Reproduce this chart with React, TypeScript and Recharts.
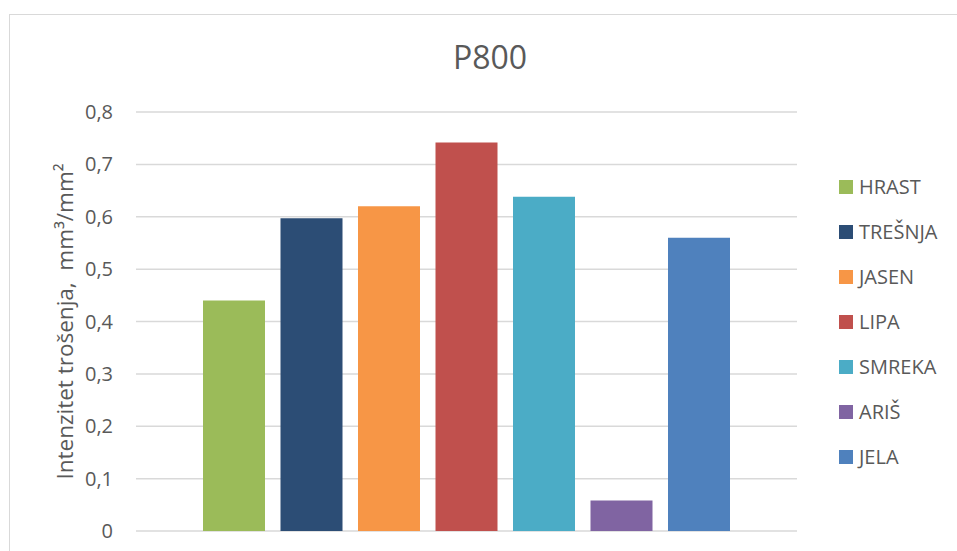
import React from 'react';
import { BarChart, Bar, XAxis, YAxis, CartesianGrid, Legend } from 'recharts';

const categories = ['P800'];
const species = ['HRAST', 'TREŠNJA', 'JASEN', 'LIPA', 'SMREKA', 'ARIŠ', 'JELA'];
const values = [0.44, 0.597, 0.62, 0.742, 0.638, 0.058, 0.56];
const colors = ['#9BBB59', '#2C4D75', '#F79646', '#C0504D', '#4BACC6', '#8064A2', '#4F81BD'];
const yTicks = [0, 0.1, 0.2, 0.3, 0.4, 0.5, 0.6, 0.7, 0.8];

const data = categories.map((name) => {
  const row: Record<string, number | string> = { name };
  species.forEach((s, i) => {
    row[s] = values[i];
  });
  return row;
});

const FONT = '"Open Sans", sans-serif';
const TEXT = '#595959';

const renderLegend = (props: any) => {
  const payload = [...(props.payload || [])].sort(
    (a: any, b: any) => species.indexOf(a.value) - species.indexOf(b.value)
  );
  return (
    <div style={{ fontFamily: FONT }}>
      {payload.map((entry: any) => (
        <div
          key={entry.value}
          style={{ height: 45, display: 'flex', alignItems: 'center' }}
        >
          <span
            style={{
              width: 14,
              height: 14,
              background: entry.color,
              display: 'inline-block',
              marginRight: 6,
            }}
          />
          <span style={{ color: TEXT, fontSize: 20, lineHeight: 1 }}>{entry.value}</span>
        </div>
      ))}
    </div>
  );
};

const App = () => {
  return (
    <div
      style={{
        position: 'absolute',
        left: 0,
        top: 0,
        width: 957,
        height: 551,
        overflow: 'hidden',
        background: '#fff',
      }}
    >
      <div
        style={{
          position: 'absolute',
          left: 9,
          top: 14,
          width: 980,
          height: 600,
          border: '1.5px solid #d9d9d9',
        }}
      />
      <div style={{ position: 'absolute', left: 0, top: 0 }}>
        <BarChart
          width={957}
          height={551}
          data={data}
          margin={{ top: 112, right: 42, bottom: 20, left: 0 }}
          barCategoryGap={67}
          barGap={15.5}
        >
          <text
            x={490}
            y={69}
            textAnchor="middle"
            fill={TEXT}
            style={{ fontFamily: FONT, fontSize: 32 }}
          >
            P800
          </text>
          <CartesianGrid vertical={false} stroke="#d9d9d9" strokeWidth={1.5} />
          <XAxis dataKey="name" hide />
          <YAxis
            width={136}
            domain={[0, 0.8]}
            ticks={yTicks}
            interval={0}
            axisLine={false}
            tickLine={false}
            tickSize={0}
            tickMargin={23}
            tickFormatter={(v: number) => (v === 0 ? '0' : v.toFixed(1).replace('.', ','))}
            tick={{ fill: TEXT, fontSize: 20, fontFamily: FONT }}
            label={{
              content: (p: any) => {
                const vb = p.viewBox || { x: 0, y: 112, width: 136, height: 419 };
                const cx = vb.x + 64;
                const cy = vb.y + vb.height / 2;
                return (
                  <text
                    x={cx}
                    y={cy}
                    transform={`rotate(-90, ${cx}, ${cy})`}
                    textAnchor="middle"
                    dominantBaseline="central"
                    fill={TEXT}
                    style={{ fontFamily: FONT, fontSize: 22.5, whiteSpace: 'pre' }}
                  >
                    {'Intenzitet trošenja,\u00A0 mm³/mm²'}
                  </text>
                );
              },
            }}
          />
          <Legend
            layout="vertical"
            verticalAlign="top"
            align="right"
            content={renderLegend}
            wrapperStyle={{ left: 839, top: 164, width: 118 }}
          />
          {species.map((s, i) => (
            <Bar
              key={s}
              dataKey={s}
              name={s}
              fill={colors[i]}
              barSize={62}
              isAnimationActive={false}
            />
          ))}
        </BarChart>
      </div>
    </div>
  );
};

export default App;
